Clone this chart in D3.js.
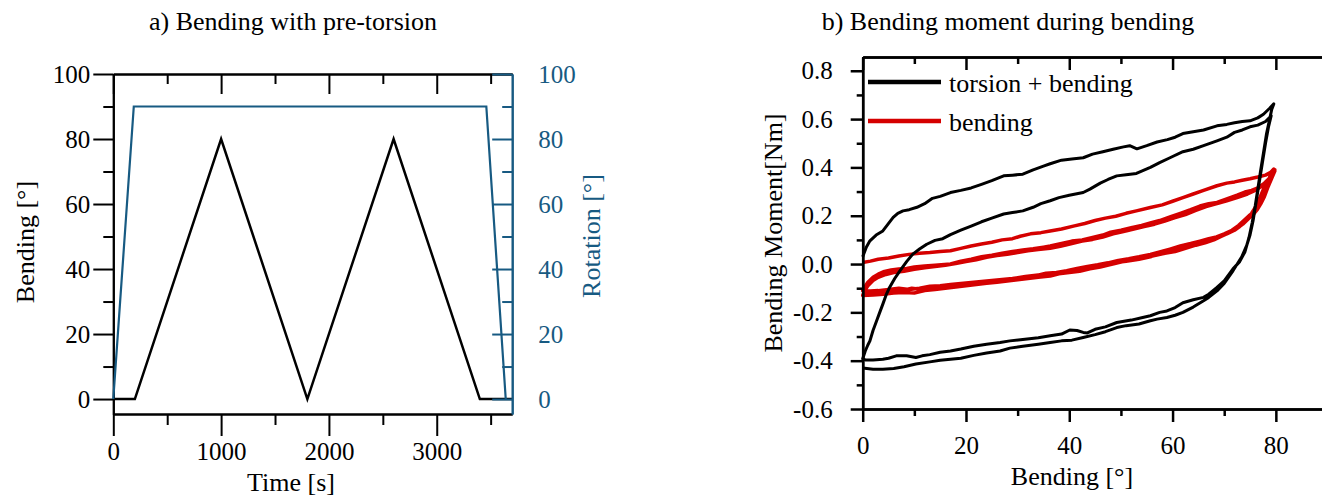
<!DOCTYPE html>
<html>
<head>
<meta charset="utf-8">
<script src="https://cdn.jsdelivr.net/npm/d3@7/dist/d3.min.js"></script>
<style>
  body { margin: 0; background: #fff; }
  svg { display: block; font-family: "Liberation Serif", "Times New Roman", serif; }
  .axis path, .axis line { stroke: #000; stroke-width: 2; }
  .blue path, .blue line { stroke: #175a82; }
  .rax path, .rax line { stroke-width: 2.5; }
</style>
</head>
<body>
<div id="chart"></div>
<script>
// ---- a) bending with pre-torsion (time courses) ----
var timeTicks = [0, 1000, 2000, 3000];
var timeMinor = [500, 1500, 2500, 3500];
var degTicks = [0, 20, 40, 60, 80, 100];
var degMinor = [10, 30, 50, 70, 90];

// [time s, angle deg]
var bendingProfile = [[0, 0], [200, 0], [1000, 80], [1800, 0], [2600, 80], [3400, 0], [3700, 0]];
var rotationProfile = [[0, 0], [190, 90], [3460, 90], [3640, 0]];

// ---- b) bending moment vs bending angle ----
var angleTicks = [0, 20, 40, 60, 80];
var angleMinor = [10, 30, 50, 70];
var momentTicks = [-0.6, -0.4, -0.2, 0, 0.2, 0.4, 0.6, 0.8];
var momentLabels = ["-0.6", "-0.4", "-0.2", "0.0", "0.2", "0.4", "0.6", "0.8"];
var momentMinor = [-0.5, -0.3, -0.1, 0.1, 0.3, 0.5, 0.7];

// torsion + bending, [bending deg, moment Nm]
var tbUp1 = [[0,0.03],[0.7,0.07],[1.4,0.096],[2.6,0.12],[3.9,0.137],[4.9,0.165],[5.9,0.193],[6.8,0.21],[7.8,0.22],[9,0.225],[10.5,0.235],[12,0.25],[13.5,0.272],[15,0.28],[17,0.296],[19,0.305],[21,0.315],[23,0.33],[25,0.345],[27.3,0.365],[29,0.368],[31,0.372],[33,0.39],[35,0.405],[36.3,0.415],[38.5,0.43],[40.5,0.435],[42.7,0.44],[44.5,0.455],[46.5,0.465],[48.5,0.475],[50.5,0.485],[51.7,0.49],[53.1,0.477],[55,0.49],[57,0.505],[59,0.515],[60.5,0.525],[62,0.54],[64,0.548],[66,0.555],[68.6,0.572],[70.5,0.578],[72,0.585],[73.5,0.59],[75,0.593],[76.5,0.605],[77.6,0.62],[78.8,0.645],[79.6,0.663]];
var tbDown1 = [[79.6,0.663],[79.2,0.64],[78.8,0.6],[78.2,0.54],[77.6,0.46],[77,0.38],[76.5,0.31],[76,0.24],[75.4,0.17],[74.8,0.11],[74,0.05],[73,0.01],[71.7,-0.02],[70,-0.07],[68.6,-0.097],[67,-0.125],[66,-0.138],[64,-0.148],[62,-0.16],[60.5,-0.18],[58.9,-0.194],[57.5,-0.2],[55.7,-0.214],[54,-0.222],[52,-0.232],[49.2,-0.242],[47,-0.26],[45,-0.27],[43.5,-0.285],[42.7,-0.283],[41.5,-0.275],[40.1,-0.273],[38.5,-0.29],[36.3,-0.297],[34,-0.305],[31,-0.312],[28.5,-0.318],[26.6,-0.325],[24,-0.332],[21.5,-0.34],[19,-0.352],[17,-0.36],[15,-0.365],[13,-0.375],[11.5,-0.38],[10.3,-0.387],[8.5,-0.38],[6.5,-0.38],[5,-0.39],[3.9,-0.394],[2,-0.397],[0.5,-0.397],[0,-0.392]];
var tbUp2 = [[0,-0.392],[0.5,-0.36],[1,-0.335],[1.4,-0.318],[2,-0.275],[2.7,-0.235],[3.3,-0.2],[3.9,-0.166],[4.5,-0.13],[5.2,-0.097],[6.2,-0.06],[7.2,-0.028],[8.5,0.01],[9.7,0.041],[11,0.062],[12.4,0.082],[14,0.098],[15.5,0.105],[17,0.122],[19,0.14],[21,0.157],[23,0.175],[25,0.19],[27.3,0.207],[29,0.213],[31,0.22],[33,0.235],[34.5,0.25],[36.3,0.262],[38,0.275],[40,0.285],[42.7,0.296],[44,0.31],[46,0.335],[47.5,0.35],[49.2,0.365],[51,0.37],[53,0.375],[55.7,0.4],[57.5,0.42],[59.5,0.44],[62,0.465],[64,0.475],[66,0.49],[68.6,0.51],[70.5,0.525],[72,0.545],[73.5,0.555],[75,0.568],[76.5,0.575],[78,0.59],[79.1,0.614]];
var tbDown2 = [[79.1,0.614],[78.6,0.57],[78,0.5],[77.4,0.42],[76.8,0.34],[76.2,0.26],[75.6,0.18],[75,0.12],[74.4,0.08],[73.4,0.03],[71.7,-0.028],[70,-0.08],[68.6,-0.111],[67,-0.138],[66,-0.152],[64,-0.178],[62,-0.2],[60.5,-0.212],[58.9,-0.221],[57,-0.228],[55.7,-0.235],[53.5,-0.248],[51,-0.255],[49.2,-0.263],[47,-0.28],[45,-0.292],[42.7,-0.304],[40.5,-0.315],[38.5,-0.318],[36.3,-0.325],[34,-0.332],[31,-0.34],[28.5,-0.348],[26.6,-0.36],[24,-0.368],[21.5,-0.378],[19,-0.39],[17,-0.394],[15,-0.398],[13,-0.405],[10.3,-0.414],[8,-0.425],[6,-0.432],[3.9,-0.435],[2,-0.435],[0,-0.43]];

// bending only
var bUp1 = [[0,0.006],[1.5,0.012],[3,0.02],[5,0.025],[7,0.033],[9,0.04],[11,0.045],[13,0.048],[15,0.052],[17,0.055],[19,0.065],[21,0.075],[23,0.083],[25,0.09],[27,0.1],[29,0.105],[30.5,0.115],[32.5,0.125],[34.5,0.13],[36.3,0.137],[38.5,0.145],[41,0.158],[43,0.168],[45,0.18],[47,0.19],[49,0.198],[51,0.21],[53,0.22],[55.7,0.234],[58,0.245],[60,0.26],[62,0.275],[64,0.29],[66,0.305],[68.6,0.324],[70.5,0.335],[72,0.34],[73.5,0.347],[75,0.353],[76.5,0.36],[78,0.368],[79,0.38],[79.6,0.393]];
var bDown1 = [[79.6,0.393],[79,0.37],[78.4,0.34],[77.6,0.31],[77,0.28],[76.2,0.24],[75.3,0.21],[74.2,0.18],[73,0.155],[72,0.14],[70.5,0.125],[68.6,0.11],[67,0.1],[65.3,0.09],[63.5,0.08],[62,0.07],[60,0.06],[58,0.05],[55.7,0.03],[53.5,0.02],[51,0.012],[48.5,0.005],[46,-0.005],[44,-0.012],[42,-0.02],[40,-0.028],[38,-0.035],[36.3,-0.04],[34,-0.045],[31.5,-0.052],[29,-0.06],[26.5,-0.065],[24,-0.07],[21.5,-0.075],[19,-0.08],[17,-0.085],[15,-0.09],[13,-0.092],[11,-0.1],[9,-0.105],[7,-0.1],[5,-0.105],[3,-0.11],[1.5,-0.112],[0,-0.11]];
var bUp2 = [[0,-0.11],[0.4,-0.095],[1,-0.075],[2,-0.055],[3,-0.042],[4,-0.032],[5.5,-0.025],[7,-0.02],[8.5,-0.018],[10,-0.012],[12,-0.008],[14,-0.005],[17,0.0],[19,0.012],[21,0.02],[23,0.03],[25,0.037],[27,0.045],[29,0.052],[31,0.058],[33,0.063],[35,0.07],[36.3,0.075],[38.5,0.085],[40.5,0.095],[42.5,0.1],[44.5,0.11],[46.5,0.12],[48,0.132],[50,0.14],[52,0.15],[54,0.16],[55.7,0.17],[57.5,0.18],[59.5,0.195],[61.5,0.21],[63.5,0.225],[65.3,0.24],[67,0.25],[68.6,0.255],[70.5,0.27],[72.5,0.285],[74,0.298],[75.3,0.305],[76.5,0.315],[77.8,0.335],[79,0.36],[79.8,0.385]];
var bDown2 = [[79.8,0.385],[79.2,0.355],[78.5,0.32],[77.8,0.28],[77.1,0.25],[76.4,0.225],[75.6,0.205],[74.8,0.19],[73.6,0.165],[72.3,0.145],[71,0.13],[69.5,0.115],[68,0.1],[66.3,0.088],[64.5,0.078],[62.5,0.065],[60.5,0.052],[58.5,0.045],[56.5,0.035],[54.5,0.025],[52.5,0.018],[50,0.008],[48,-0.002],[46,-0.012],[44,-0.02],[42,-0.03],[40,-0.035],[38,-0.04],[36.3,-0.05],[34,-0.055],[32,-0.06],[30,-0.065],[28,-0.07],[26,-0.075],[24,-0.08],[22,-0.085],[20,-0.09],[18,-0.095],[16,-0.1],[14,-0.105],[12,-0.11],[10,-0.12],[8,-0.118],[6,-0.12],[4,-0.125],[2,-0.128],[0,-0.13]];
var bUp3 = [[0,-0.13],[0.4,-0.11],[1,-0.09],[2,-0.068],[3,-0.055],[4.5,-0.043],[6,-0.035],[8,-0.03],[10,-0.022],[12,-0.015],[14,-0.01],[16,-0.005],[18,0.002],[20,0.01],[22,0.018],[24,0.028],[26,0.035],[28,0.04],[30,0.048],[32,0.055],[34,0.06],[36.3,0.065],[38.5,0.075],[40.5,0.085],[42.5,0.095],[44.5,0.102],[46.5,0.112],[48.5,0.125],[50.5,0.135],[52.5,0.145],[54.5,0.155],[56.5,0.165],[58.5,0.178],[60.5,0.192],[62.5,0.205],[64.5,0.222],[66.5,0.238],[68.6,0.25],[70.5,0.262],[72.5,0.275],[74.5,0.29],[76,0.305],[77.5,0.325],[78.8,0.355],[79.8,0.39]];
var bDown3 = [[79.8,0.39],[79.3,0.365],[78.7,0.335],[78,0.3],[77.3,0.265],[76.5,0.235],[75.7,0.215],[74.8,0.2],[73.8,0.18],[72.8,0.16],[71.5,0.14],[70,0.125],[68.5,0.112],[67,0.105],[65.3,0.095],[63.5,0.085],[61.5,0.075],[59.5,0.062],[57.5,0.05],[55.7,0.04],[53.5,0.03],[51.5,0.022],[49.5,0.015],[47.5,0.005],[45.5,-0.003],[43.5,-0.01],[41.5,-0.018],[39.5,-0.028],[37.5,-0.035],[35.5,-0.038],[33.5,-0.048],[31.5,-0.055],[29.5,-0.06],[27.5,-0.065],[25.5,-0.07],[23.5,-0.072],[21.5,-0.08],[19.5,-0.085],[17.5,-0.09],[15.5,-0.095],[13.5,-0.1],[11.5,-0.105],[9.5,-0.1],[7.5,-0.11],[5.5,-0.115],[3.5,-0.118],[1.5,-0.12],[0,-0.12]];

var BLUE = "#175a82", RED = "#d50000";
var SERIF = "'Liberation Serif', 'Times New Roman', serif";

var svg = d3.select("#chart").append("svg")
  .attr("width", 1322)
  .attr("height", 499);

function addAxis(g, axis, tx, ty, cls, color) {
  var ax = g.append("g")
    .attr("class", "axis " + (cls || ""))
    .attr("transform", "translate(" + tx + "," + ty + ")")
    .call(axis);
  ax.attr("font-family", null).attr("font-size", null);
  ax.selectAll("text")
    .style("font-family", SERIF)
    .style("font-size", "25px")
    .style("fill", color || "#000");
  return ax;
}

function label(g, text, x, y, rot, color, size) {
  g.append("text")
    .attr("transform", "translate(" + x + "," + y + ")" + (rot ? " rotate(-90)" : ""))
    .attr("text-anchor", "middle")
    .style("font-family", SERIF)
    .style("font-size", (size || 26) + "px")
    .style("fill", color || "#000")
    .text(text);
}

// ================= panel a =================
var xa = d3.scaleLinear().domain([0, 3700]).range([113.3, 512.2]);
var ya = d3.scaleLinear().domain([-4.6, 100]).range([414, 74]);
var ga = svg.append("g");

label(ga, "a) Bending with pre-torsion", 293, 30);

// bottom
addAxis(ga, d3.axisBottom(xa).tickValues(timeMinor).tickSize(11).tickSizeOuter(0).tickFormat(""), 0, 414);
addAxis(ga, d3.axisBottom(xa).tickValues(timeTicks).tickSize(22).tickSizeOuter(0).tickPadding(6).tickFormat(d3.format("d")), 0, 414);
// top (inward)
addAxis(ga, d3.axisBottom(xa).tickValues(timeMinor).tickSize(10).tickSizeOuter(0).tickFormat(""), 0, 74);
addAxis(ga, d3.axisBottom(xa).tickValues(timeTicks).tickSize(20).tickSizeOuter(0).tickFormat(""), 0, 74);
// left
addAxis(ga, d3.axisLeft(ya).tickValues(degMinor).tickSize(10).tickSizeOuter(0).tickFormat(""), 113.3, 0);
addAxis(ga, d3.axisLeft(ya).tickValues(degTicks).tickSize(20).tickSizeOuter(0).tickPadding(3), 113.3, 0);

label(ga, "Bending [°]", 34, 242, true);
label(ga, "Time [s]", 291, 491);

var lineA = d3.line().x(function (d) { return xa(d[0]); }).y(function (d) { return ya(d[1]); });

ga.append("path")
  .attr("d", lineA(bendingProfile))
  .attr("fill", "none").attr("stroke", "#000").attr("stroke-width", 2.5);

ga.append("path")
  .attr("d", lineA(rotationProfile))
  .attr("fill", "none").attr("stroke", BLUE).attr("stroke-width", 2.2);

// right (blue, inward ticks)
addAxis(ga, d3.axisRight(ya).tickValues(degMinor).tickSize(-10).tickSizeOuter(0).tickFormat(""), 512.2, 0, "blue");
addAxis(ga, d3.axisRight(ya).tickValues(degTicks).tickSize(-20).tickSizeOuter(0).tickPadding(26), 512.2, 0, "blue", BLUE);

label(ga, "Rotation [°]", 600, 236, true, BLUE);

// ================= panel b =================
var xb = d3.scaleLinear().domain([0, 90]).range([862.7, 1327.5]);
var yb = d3.scaleLinear().domain([-0.6, 0.857]).range([409, 57]);
var gb = svg.append("g");

label(gb, "b) Bending moment during bending", 1008, 30);

var lineB = d3.line().x(function (d) { return xb(d[0]); }).y(function (d) { return yb(d[1]); });

var tbPath = tbUp1.concat(tbDown1, tbUp2, tbDown2);
var bPath = bUp1.concat(bDown1, bUp2, bDown2, bUp3, bDown3);

gb.append("path")
  .attr("d", lineB(bPath))
  .attr("fill", "none").attr("stroke", RED).attr("stroke-width", 3.5)
  .attr("stroke-linejoin", "round");

gb.append("path")
  .attr("d", lineB(tbPath))
  .attr("fill", "none").attr("stroke", "#000").attr("stroke-width", 3)
  .attr("stroke-linejoin", "round");

// axes
addAxis(gb, d3.axisBottom(xb).tickValues(angleMinor).tickSize(7).tickSizeOuter(0).tickFormat(""), 0, 409, "rax");
addAxis(gb, d3.axisBottom(xb).tickValues(angleTicks).tickSize(13).tickSizeOuter(0).tickPadding(14), 0, 409, "rax");
addAxis(gb, d3.axisBottom(xb).tickValues(angleMinor).tickSize(7).tickSizeOuter(0).tickFormat(""), 0, 57, "rax");
addAxis(gb, d3.axisBottom(xb).tickValues(angleTicks).tickSize(13).tickSizeOuter(0).tickFormat(""), 0, 57, "rax");
addAxis(gb, d3.axisLeft(yb).tickValues(momentMinor).tickSize(6).tickSizeOuter(0).tickFormat(""), 862.7, 0, "rax");
addAxis(gb, d3.axisLeft(yb).tickValues(momentTicks).tickSize(12).tickSizeOuter(0).tickPadding(18)
  .tickFormat(function (d, i) { return momentLabels[i]; }), 862.7, 0, "rax");
addAxis(gb, d3.axisLeft(yb).tickValues(momentMinor).tickSize(-6).tickSizeOuter(0).tickFormat(""), 1327.5, 0, "rax");
addAxis(gb, d3.axisLeft(yb).tickValues(momentTicks).tickSize(-13).tickSizeOuter(0).tickFormat(""), 1327.5, 0, "rax");

label(gb, "Bending Moment[Nm]", 782, 233, true);
label(gb, "Bending [°]", 1072, 485);

// legend
var legendItems = [
  { label: "torsion + bending", color: "#000", y: 82 },
  { label: "bending", color: RED, y: 121 }
];
var lg = gb.selectAll(".lg").data(legendItems).enter().append("g").attr("class", "lg");
lg.append("line")
  .attr("x1", 868).attr("x2", 941)
  .attr("y1", function (d) { return d.y; }).attr("y2", function (d) { return d.y; })
  .attr("stroke", function (d) { return d.color; })
  .attr("stroke-width", 4.5);
lg.append("text")
  .attr("x", 949)
  .attr("y", function (d) { return d.y + 10; })
  .style("font-family", SERIF)
  .style("font-size", "26px")
  .text(function (d) { return d.label; });
</script>
</body>
</html>
